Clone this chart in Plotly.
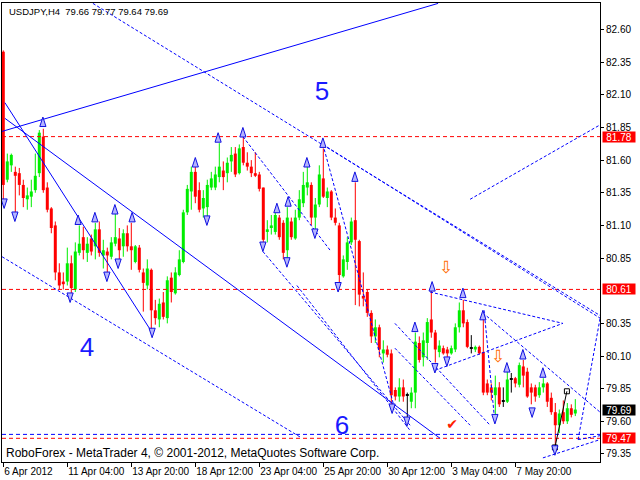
import plotly.graph_objects as go

# ---- USDJPY H4 candles (bar index 0 = first visible bar) ----
opens = [82.43, 81.45, 81.56, 81.51, 81.50, 81.41, 81.30, 81.32, 81.37, 81.50,
         81.78, 81.39, 81.23, 81.10, 80.74, 80.67, 80.67, 80.81, 80.61, 80.89,
         81.01, 80.89, 81.00, 80.94, 81.07, 80.87, 80.90, 80.86, 80.96, 81.00,
         80.94, 81.04, 80.94, 80.82, 80.93, 80.74, 80.64, 80.76, 80.45, 80.38,
         80.51, 80.39, 80.70, 80.58, 80.72, 80.82, 81.20, 81.36, 81.51, 81.37,
         81.23, 81.24, 81.39, 81.39, 81.47, 81.52, 81.50, 81.59, 81.65, 81.50,
         81.70, 81.58, 81.55, 81.50, 81.49, 81.39, 81.05, 81.08, 81.05, 81.16,
         81.12, 80.91, 81.13, 81.00, 81.16, 81.27, 81.39, 81.41, 81.16, 81.26,
         81.46, 81.31, 81.36, 81.16, 81.10, 80.71, 80.82, 80.97, 81.14, 80.98,
         80.56, 80.59, 80.43, 80.25, 80.32, 80.12, 80.15, 80.12, 79.84, 79.79,
         79.86, 79.80, 79.75, 79.82, 80.20, 80.09, 80.20, 80.38, 80.28, 80.13,
         80.16, 80.15, 80.12, 80.15, 80.32, 80.45, 80.36, 80.16, 80.15, 80.17,
         80.13, 79.89, 79.86, 79.80, 79.86, 79.75, 79.75, 79.92, 79.93, 79.88,
         80.02, 79.98, 79.86, 79.86, 79.80, 79.86, 79.89, 79.78, 79.67, 79.57,
         79.67, 79.60, 79.70, 79.66]
highs = [82.44, 81.65, 81.65, 81.55, 81.54, 81.45, 81.39, 81.45, 81.65, 81.83,
         81.84, 81.43, 81.24, 81.13, 80.81, 80.74, 80.93, 80.87, 80.97, 81.10,
         81.09, 81.01, 81.03, 81.12, 81.13, 80.99, 80.93, 81.01, 81.19, 81.08,
         81.07, 81.10, 81.12, 80.95, 80.95, 80.77, 80.84, 80.77, 80.53, 80.54,
         80.59, 80.71, 80.74, 80.78, 80.91, 81.22, 81.41, 81.55, 81.55, 81.43,
         81.37, 81.45, 81.51, 81.55, 81.73, 81.59, 81.62, 81.70, 81.70, 81.72,
         81.78, 81.66, 81.60, 81.66, 81.51, 81.39, 81.14, 81.18, 81.20, 81.18,
         81.14, 81.24, 81.16, 81.22, 81.37, 81.51, 81.55, 81.43, 81.31, 81.56,
         81.69, 81.39, 81.37, 81.23, 81.12, 80.87, 81.01, 81.16, 81.43, 80.99,
         80.74, 80.61, 80.45, 80.38, 80.34, 80.22, 80.18, 80.15, 79.86, 79.93,
         79.92, 79.82, 79.86, 80.28, 80.25, 80.28, 80.39, 80.61, 80.30, 80.22,
         80.18, 80.17, 80.18, 80.35, 80.51, 80.53, 80.38, 80.26, 80.18, 80.18,
         80.40, 79.92, 79.89, 79.95, 79.90, 79.86, 79.98, 79.97, 79.94, 80.05,
         80.07, 80.01, 79.89, 79.88, 79.90, 79.93, 79.90, 79.82, 79.74, 79.69,
         79.76, 79.74, 79.73, 79.77]
lows = [81.30, 81.43, 81.51, 81.18, 81.33, 81.24, 81.22, 81.24, 81.35, 81.47,
        81.35, 81.20, 81.04, 80.68, 80.61, 80.61, 80.64, 80.54, 80.59, 80.87,
        80.84, 80.82, 80.87, 80.84, 80.86, 80.77, 80.72, 80.84, 80.94, 80.84,
        80.86, 80.90, 80.76, 80.81, 80.74, 80.44, 80.61, 80.28, 80.34, 80.32,
        80.38, 80.35, 80.51, 80.57, 80.71, 80.81, 81.18, 81.22, 81.27, 81.20,
        81.16, 81.16, 81.37, 81.37, 81.43, 81.37, 81.43, 81.51, 81.47, 81.49,
        81.56, 81.52, 81.47, 81.47, 81.36, 80.94, 80.97, 81.03, 81.03, 80.99,
        80.84, 80.84, 80.99, 80.99, 81.14, 81.24, 81.33, 81.10, 81.05, 81.24,
        81.31, 81.24, 81.14, 81.10, 80.64, 80.70, 80.76, 80.95, 80.49, 80.48,
        80.48, 80.40, 80.20, 80.20, 80.09, 80.05, 80.09, 79.71, 79.76, 79.75,
        79.75, 79.63, 79.70, 79.70, 80.05, 80.02, 80.07, 80.24, 80.05, 80.09,
        80.11, 80.07, 80.11, 80.13, 80.28, 80.32, 80.16, 80.12, 80.13, 80.11,
        79.80, 79.80, 79.76, 79.63, 79.71, 79.71, 79.74, 79.82, 79.86, 79.86,
        79.86, 79.78, 79.73, 79.75, 79.78, 79.82, 79.71, 79.65, 79.41, 79.51,
        79.58, 79.58, 79.63, 79.64]
closes = [81.41, 81.59, 81.64, 81.48, 81.41, 81.31, 81.33, 81.36, 81.48, 81.81,
          81.37, 81.22, 81.08, 80.74, 80.64, 80.65, 80.81, 80.62, 80.90, 80.96,
          80.91, 80.96, 80.90, 81.07, 80.89, 80.91, 80.87, 80.97, 81.01, 80.91,
          81.04, 80.94, 80.91, 80.94, 80.76, 80.66, 80.77, 80.45, 80.39, 80.50,
          80.40, 80.68, 80.59, 80.74, 80.84, 81.20, 81.38, 81.51, 81.32, 81.22,
          81.31, 81.41, 81.46, 81.49, 81.55, 81.47, 81.58, 81.64, 81.49, 81.69,
          81.58, 81.55, 81.50, 81.48, 81.38, 80.99, 81.07, 81.10, 81.18, 81.01,
          80.89, 81.16, 81.01, 81.16, 81.30, 81.41, 81.43, 81.16, 81.26, 81.49,
          81.32, 81.36, 81.16, 81.12, 80.72, 80.84, 80.97, 81.13, 80.99, 80.57,
          80.54, 80.43, 80.25, 80.32, 80.15, 80.15, 80.11, 79.80, 79.79, 79.86,
          79.79, 79.80, 79.82, 80.21, 80.07, 80.22, 80.36, 80.28, 80.15, 80.18,
          80.12, 80.12, 80.16, 80.32, 80.45, 80.35, 80.17, 80.16, 80.17, 80.12,
          79.82, 79.82, 79.82, 79.86, 79.73, 79.75, 79.92, 79.92, 79.89, 80.03,
          79.95, 79.79, 79.82, 79.79, 79.86, 79.89, 79.75, 79.67, 79.57, 79.66,
          79.60, 79.70, 79.65, 79.69]
bar_idx = list(range(len(opens)))

# ---- axis labels ----
time_tick_bars = [0, 16, 32, 48, 64, 80, 96, 112, 128]
time_tick_text = ["6 Apr 2012", "11 Apr 04:00", "13 Apr 20:00", "18 Apr 12:00",
                  "23 Apr 04:00", "25 Apr 20:00", "30 Apr 12:00", "3 May 04:00",
                  "7 May 20:00"]
price_ticks = [82.60, 82.35, 82.10, 81.85, 81.60, 81.35, 81.10, 80.85,
               80.35, 80.10, 79.85, 79.60, 79.35]

# ---- horizontal levels and current price ----
level_prices = [81.78, 80.61, 79.47]
support_dash_price = 79.50
last_bar_text = "USDJPY,H4  79.66 79.77 79.64 79.69"

# ---- analysis drawings: (bar, price) anchor pairs ----
solid_lines = [
    ((-0.3, 81.82), (108.7, 82.80)),
    ((0.4, 81.92), (109.2, 79.47)),
    ((0.4, 82.04), (37.2, 80.28)),
]
dotted_lines = [
    ((22.4, 82.80), (149.2, 80.41)),
    ((79.9, 81.72), (149.2, 80.39)),
    ((-0.3, 80.86), (74.2, 79.48)),
    ((59.9, 81.78), (81.7, 80.91)),
    ((79.9, 81.72), (97.9, 79.69)),
    ((64.9, 80.90), (101.7, 79.57)),
    ((73.4, 80.64), (101.7, 79.53)),
    ((97.9, 80.35), (121.7, 79.57)),
    ((97.9, 80.16), (116.7, 79.57)),
    ((106.7, 80.59), (139.9, 80.35)),
    ((107.9, 79.99), (139.9, 80.35)),
    ((120.2, 80.45), (122.9, 79.59)),
    ((119.9, 80.43), (149.2, 79.67)),
    ((116.7, 81.30), (149.2, 81.87)),
    ((143.7, 79.46), (149.2, 80.39)),
    ((134.9, 79.32), (149.2, 79.46)),
    ((143.7, 79.46), (149.2, 79.49)),
]
forecast_bars = [137.9, 140.9]
forecast_prices = [79.40, 79.83]

up_arrow_bars = [9.9, 18.7, 22.9, 27.9, 32.2, 48.0, 53.7, 59.9, 68.4, 71.2,
                 75.9, 79.9, 87.9, 102.9, 107.2, 114.9, 119.9, 125.9, 129.9, 134.9]
up_arrow_prices = [81.93, 81.18, 81.20, 81.26, 81.20, 81.62, 81.81, 81.85, 81.27, 81.32,
                   81.62, 81.77, 81.51, 80.36, 80.67, 80.62, 80.45, 80.05, 80.15, 80.01]
down_arrow_bars = [0.2, 2.9, 16.7, 25.9, 28.7, 37.2, 50.9, 64.9, 70.9, 77.9,
                   83.7, 97.2, 100.9, 107.9, 110.9, 122.9, 132.2, 137.9]
down_arrow_prices = [81.23, 81.13, 80.51, 80.67, 80.77, 80.24, 81.10, 80.90, 80.78, 81.00,
                     80.59, 79.66, 79.56, 79.97, 80.02, 79.58, 79.63, 79.34]

wave_labels = ["5", "4", "6"]
wave_bars = [79.7, 20.9, 84.7]
wave_prices = [82.11, 80.15, 79.55]

signal_bars = [110.7, 123.7]
signal_prices = [80.77, 80.09]
check_bar, check_price = 112.2, 79.57

X_RANGE = [-0.325, 149.175]
Y_RANGE = [79.2885, 82.803]
FONT = "Liberation Sans, Arial, sans-serif"
BLUE = "#0000ff"

fig = go.Figure()


def candle_color(o, c):
    if c > o:
        return "#00ee00"
    if c < o:
        return "#ff0000"
    return "#000000"


colors = [candle_color(o, c) for o, c in zip(opens, closes)]

# wicks, one trace per colour
for col in ["#00ee00", "#ff0000", "#000000"]:
    wx, wy = [], []
    for i, o, h, l, c, cc in zip(bar_idx, opens, highs, lows, closes, colors):
        if cc == col:
            wx += [i, i, None]
            wy += [l, h, None]
    fig.add_trace(go.Scatter(x=wx, y=wy, mode="lines",
                             line=dict(color=col, width=1),
                             hoverinfo="skip", showlegend=False))

# bodies
body_base = [min(o, c) for o, c in zip(opens, closes)]
body_h = [max(abs(c - o), 0.007) for o, c in zip(opens, closes)]
fig.add_trace(go.Bar(x=bar_idx, y=body_h, base=body_base, width=0.75,
                     marker=dict(color=colors, line=dict(width=0)),
                     hoverinfo="skip", showlegend=False))

# horizontal levels
for p in level_prices:
    fig.add_trace(go.Scatter(x=X_RANGE, y=[p, p], mode="lines",
                             line=dict(color="#ff0000", width=1, dash="4px,3px"),
                             hoverinfo="skip", showlegend=False))
fig.add_trace(go.Scatter(x=X_RANGE, y=[support_dash_price] * 2, mode="lines",
                         line=dict(color=BLUE, width=1, dash="4px,3px"),
                         hoverinfo="skip", showlegend=False))


def seg_trace(segs, dash):
    xs, ys = [], []
    for (x0, y0), (x1, y1) in segs:
        xs += [x0, x1, None]
        ys += [y0, y1, None]
    return go.Scatter(x=xs, y=ys, mode="lines",
                      line=dict(color=BLUE, width=1, dash=dash),
                      hoverinfo="skip", showlegend=False)


fig.add_trace(seg_trace(solid_lines, "solid"))
fig.add_trace(seg_trace(dotted_lines, "3px,2px"))

# forecast path with anchor squares
fig.add_trace(go.Scatter(x=forecast_bars, y=forecast_prices, mode="lines+markers",
                         line=dict(color="#000000", width=1),
                         marker=dict(symbol="square-open", size=5, color="#000000",
                                     line=dict(width=1)),
                         hoverinfo="skip", showlegend=False))

# fractal arrows
fig.add_trace(go.Scatter(x=up_arrow_bars, y=up_arrow_prices, mode="markers",
                         marker=dict(symbol="arrow", size=10, color="#b4b4ff",
                                     line=dict(color="#1010e0", width=1)),
                         hoverinfo="skip", showlegend=False))
fig.add_trace(go.Scatter(x=down_arrow_bars, y=down_arrow_prices, mode="markers",
                         marker=dict(symbol="arrow", size=10, angle=180, color="#b4b4ff",
                                     line=dict(color="#1010e0", width=1)),
                         hoverinfo="skip", showlegend=False))

# wave counts
fig.add_trace(go.Scatter(x=wave_bars, y=wave_prices, mode="text", text=wave_labels,
                         textfont=dict(family=FONT, size=26, color="#1a1aff"),
                         hoverinfo="skip", showlegend=False))
# signal arrows and check mark
fig.add_trace(go.Scatter(x=signal_bars, y=signal_prices, mode="text",
                         text=["⇩"] * len(signal_bars),
                         textfont=dict(family="DejaVu Sans", size=17, color="#ff6a00"),
                         hoverinfo="skip", showlegend=False))
fig.add_trace(go.Scatter(x=[check_bar], y=[check_price], mode="text", text=["✔"],
                         textfont=dict(family="DejaVu Sans", size=14, color="#ff2000"),
                         hoverinfo="skip", showlegend=False))

annotations = [
    dict(text=last_bar_text, xref="paper", yref="paper", x=0, y=1,
         xanchor="left", yanchor="top", xshift=5, yshift=-1, showarrow=False,
         font=dict(family=FONT, size=9.5, color="#000000")),
    dict(text="RoboForex - MetaTrader 4, © 2001-2012, MetaQuotes Software Corp.",
         xref="paper", yref="paper", x=0, y=0, xanchor="left", yanchor="bottom",
         xshift=2, yshift=0, showarrow=False,
         font=dict(family=FONT, size=12, color="#000000")),
]
for p in level_prices:
    annotations.append(dict(text=f"{p:.2f}", xref="paper", yref="y", x=1, y=p,
                            xanchor="left", yanchor="middle", xshift=2, showarrow=False,
                            bgcolor="#ff0000", width=32, height=10, borderpad=0,
                            font=dict(family=FONT, size=10, color="#ffffff")))
annotations.append(dict(text=f"{closes[-1]:.2f}", xref="paper", yref="y", x=1,
                        y=closes[-1], xanchor="left", yanchor="middle", xshift=2,
                        showarrow=False, bgcolor="#000000", width=32, height=10,
                        borderpad=0, font=dict(family=FONT, size=10, color="#ffffff")))

fig.update_layout(
    width=640, height=480,
    margin=dict(l=2, r=40, t=3, b=18),
    paper_bgcolor="#ffffff", plot_bgcolor="#ffffff",
    barmode="overlay", showlegend=False,
    annotations=annotations,
    font=dict(family=FONT, size=10, color="#000000"),
    xaxis=dict(range=X_RANGE, showgrid=False, zeroline=False,
               tickmode="array", tickvals=time_tick_bars, ticktext=time_tick_text,
               ticks="outside", ticklen=4, tickcolor="#000000", tickangle=0,
               ticklabelposition="outside right",
               showline=True, linecolor="#000000", linewidth=1, mirror=True,
               tickfont=dict(family=FONT, size=10)),
    yaxis=dict(range=Y_RANGE, side="right", showgrid=False, zeroline=False,
               tickmode="array", tickvals=price_ticks,
               ticktext=[f"{v:.2f}" for v in price_ticks],
               ticks="outside", ticklen=3, tickcolor="#000000",
               showline=True, linecolor="#000000", linewidth=1, mirror=True,
               tickfont=dict(family=FONT, size=10)),
)

fig.write_html("out.html")
